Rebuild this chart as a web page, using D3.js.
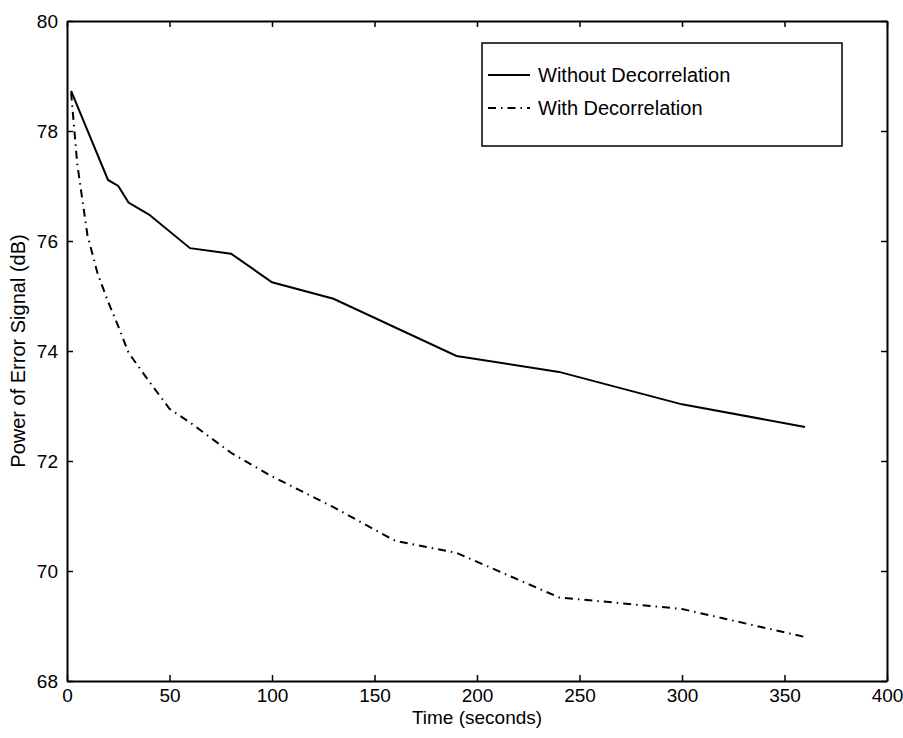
<!DOCTYPE html>
<html>
<head>
<meta charset="utf-8">
<script src="https://cdn.jsdelivr.net/npm/d3@7"></script>
<style>
  body { margin: 0; background: #fff; }
  svg text { font-family: "Liberation Sans", Arial, Helvetica, sans-serif; fill: #000; }
</style>
</head>
<body>
<div id="chart"></div>
<script>
// data
var timeNoDecor = [2, 20, 25, 30, 40, 60, 80, 100, 130, 190, 240, 300, 360];
var powerNoDecor = [78.73, 77.11, 77.0, 76.7, 76.48, 75.87, 75.77, 75.25, 74.95, 73.91, 73.62, 73.03, 72.62];

var timeDecor = [2, 5, 10, 15, 20, 25, 30, 40, 50, 60, 80, 100, 130, 160, 190, 240, 300, 360];
var powerDecor = [78.7, 77.4, 76.1, 75.4, 74.9, 74.45, 73.97, 73.45, 72.95, 72.7, 72.15, 71.72, 71.16, 70.55, 70.33, 69.52, 69.31, 68.8];

var xTicks = [0, 50, 100, 150, 200, 250, 300, 350, 400];
var yTicks = [68, 70, 72, 74, 76, 78, 80];
var seriesNames = ["Without Decorrelation", "With Decorrelation"];

var W = 903, H = 738;
var m = { top: 21, right: 16, bottom: 57, left: 67 };
var iw = W - m.left - m.right, ih = H - m.top - m.bottom;

var svg = d3.select('#chart').append('svg')
	.attr('width', W)
	.attr('height', H);

var g = svg.append('g').attr('transform', 'translate(' + m.left + ',' + m.top + ')');

var x = d3.scaleLinear().domain([0, 400]).range([0, iw]);
var y = d3.scaleLinear().domain([68, 80]).range([ih, 0]);

// axes, matlab style: ticks point inward on all four sides
var tk = 6;
var bottomAxis = d3.axisBottom(x).tickValues(xTicks).tickSizeInner(-tk).tickSizeOuter(0).tickPadding(8);
var leftAxis = d3.axisLeft(y).tickValues(yTicks).tickSizeInner(-tk).tickSizeOuter(0).tickPadding(9);
var topAxis = d3.axisTop(x).tickValues(xTicks).tickSizeInner(-tk).tickSizeOuter(0).tickFormat('');
var rightAxis = d3.axisRight(y).tickValues(yTicks).tickSizeInner(-tk).tickSizeOuter(0).tickFormat('');

function styleAxis(sel) {
	sel.selectAll('.domain').attr('stroke', '#000').attr('stroke-width', 2);
	sel.selectAll('.tick line').attr('stroke', '#000').attr('stroke-width', 1.5);
	sel.selectAll('.tick text').style('font-size', '19px');
}

g.append('g').attr('transform', 'translate(0,' + ih + ')').call(bottomAxis).call(styleAxis);
g.append('g').call(leftAxis).call(styleAxis);
g.append('g').call(topAxis).call(styleAxis);
g.append('g').attr('transform', 'translate(' + iw + ',0)').call(rightAxis).call(styleAxis);

// lines
var line = d3.line()
	.x(function (d) { return x(d[0]); })
	.y(function (d) { return y(d[1]); });

var solidPts = d3.zip(timeNoDecor, powerNoDecor);
var dashPts = d3.zip(timeDecor, powerDecor);

g.append('path')
	.attr('d', line(solidPts))
	.attr('fill', 'none')
	.attr('stroke', '#000')
	.attr('stroke-width', 2);

g.append('path')
	.attr('d', line(dashPts))
	.attr('fill', 'none')
	.attr('stroke', '#000')
	.attr('stroke-width', 2)
	.attr('stroke-dasharray', '8,5,1.5,5');

// axis titles
svg.append('text')
	.attr('x', m.left + iw / 2)
	.attr('y', 724)
	.attr('text-anchor', 'middle')
	.style('font-size', '19px')
	.text('Time (seconds)');

svg.append('text')
	.attr('transform', 'translate(25,' + (m.top + ih / 2) + ') rotate(-90)')
	.attr('text-anchor', 'middle')
	.style('font-size', '20px')
	.text('Power of Error Signal (dB)');

// legend
var leg = svg.append('g').attr('transform', 'translate(482,43)');
leg.append('rect')
	.attr('width', 360)
	.attr('height', 103)
	.attr('fill', '#fff')
	.attr('stroke', '#000')
	.attr('stroke-width', 1.5);

var legY = [32, 65];
var dashes = [null, '8,5,1.5,5'];
seriesNames.forEach(function (name, i) {
	leg.append('line')
		.attr('x1', 6).attr('x2', 48)
		.attr('y1', legY[i]).attr('y2', legY[i])
		.attr('stroke', '#000')
		.attr('stroke-width', 2)
		.attr('stroke-dasharray', dashes[i]);
	leg.append('text')
		.attr('x', 56)
		.attr('y', legY[i] + 7)
		.style('font-size', '20px')
		.text(name);
});
</script>
</body>
</html>
